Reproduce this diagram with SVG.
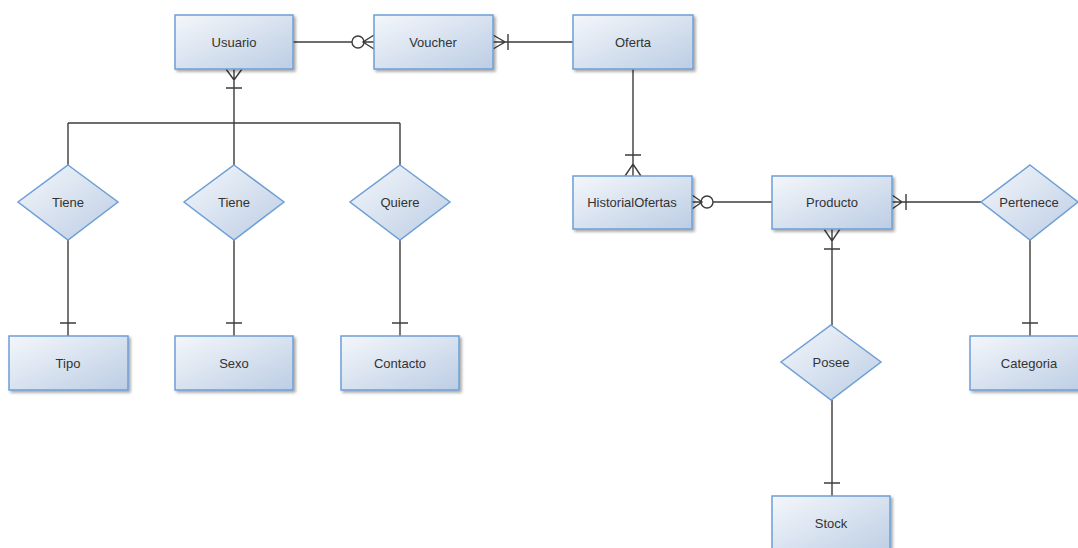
<svg xmlns="http://www.w3.org/2000/svg" width="1078" height="548" viewBox="0 0 1078 548">
  <defs>
    <linearGradient id="fill" x1="0" y1="0" x2="1" y2="1">
      <stop offset="0" stop-color="#f4f7fb"/>
      <stop offset="1" stop-color="#bccde4"/>
    </linearGradient>
    <filter id="shadow" x="-10%" y="-10%" width="130%" height="140%">
      <feGaussianBlur in="SourceAlpha" stdDeviation="1.5"/>
      <feOffset dx="1.5" dy="2" result="b"/>
      <feComponentTransfer><feFuncA type="linear" slope="0.35"/></feComponentTransfer>
      <feMerge><feMergeNode/><feMergeNode in="SourceGraphic"/></feMerge>
    </filter>
  </defs>
  <style>
    .ent { fill: url(#fill); stroke: #6d9fd6; stroke-width: 1.5; filter: url(#shadow); }
    .rel { fill: url(#fill); stroke: #6d9fd6; stroke-width: 1.5; }
    .lbl { font-family: "Liberation Sans", Arial, sans-serif; font-size: 13px; fill: #333; text-anchor: middle; dominant-baseline: central; }
    .ln { fill: none; stroke: #3c3c3c; stroke-width: 1.4; }
  </style>

  <rect width="1078" height="548" fill="#ffffff"/>

  <!-- connectors and cardinality marks -->
  <g id="connectors" class="ln">
    <!-- Usuario - Voucher -->
    <path d="M293 42 H352"/>
    <circle cx="358" cy="42" r="6"/>
    <path d="M364 42 H374 M374 35 L363 42 L374 49"/>
    <!-- Voucher - Oferta -->
    <path d="M493 35 L505 42 L493 49 M493 42 H573 M508 34 V50"/>
    <!-- Oferta - HistorialOfertas -->
    <path d="M633 69 V176 M625 155 H641 M625 176 L633 164 L641 176"/>
    <!-- HistorialOfertas - Producto -->
    <path d="M692 195 L702 202 L692 209 M692 202 H701"/>
    <circle cx="707" cy="202" r="6"/>
    <path d="M713 202 H772"/>
    <!-- Producto - Pertenece -->
    <path d="M892 195 L902 202 L892 209 M892 202 H981 M906 194 V210"/>
    <!-- Pertenece - Categoria -->
    <path d="M1030 240 V336 M1022 323 H1038"/>
    <!-- Producto - Posee -->
    <path d="M832 229 V325 M824 229 L832 241 L840 229 M824 249 H840"/>
    <!-- Posee - Stock -->
    <path d="M832 400 V496 M824 483 H840"/>
    <!-- Usuario - relationships -->
    <path d="M234 69 V123 M226 69 L234 80 L242 69 M226 88 H242"/>
    <path d="M68 123 H400 M68 123 V165 M234 123 V165 M400 123 V165"/>
    <path d="M68 240 V336 M60 323 H76"/>
    <path d="M234 240 V336 M226 323 H242"/>
    <path d="M400 240 V336 M392 323 H408"/>
  </g>

  <!-- entities -->
  <g id="usuario"><rect class="ent" x="175" y="15" width="118" height="54"/><text class="lbl" x="234" y="42">Usuario</text></g>
  <g id="voucher"><rect class="ent" x="374" y="15" width="119" height="54"/><text class="lbl" x="433" y="42">Voucher</text></g>
  <g id="oferta"><rect class="ent" x="573" y="15" width="120" height="54"/><text class="lbl" x="633" y="42">Oferta</text></g>
  <g id="historialofertas"><rect class="ent" x="573" y="176" width="119" height="53"/><text class="lbl" x="632" y="202">HistorialOfertas</text></g>
  <g id="producto"><rect class="ent" x="772" y="176" width="120" height="53"/><text class="lbl" x="832" y="202">Producto</text></g>
  <g id="categoria"><rect class="ent" x="970" y="336" width="118" height="54"/><text class="lbl" x="1029" y="363">Categoria</text></g>
  <g id="stock"><rect class="ent" x="772" y="496" width="118" height="60"/><text class="lbl" x="831" y="523">Stock</text></g>
  <g id="tipo"><rect class="ent" x="9" y="336" width="119" height="54"/><text class="lbl" x="68" y="363">Tipo</text></g>
  <g id="sexo"><rect class="ent" x="175" y="336" width="118" height="54"/><text class="lbl" x="234" y="363">Sexo</text></g>
  <g id="contacto"><rect class="ent" x="341" y="336" width="118" height="54"/><text class="lbl" x="400" y="363">Contacto</text></g>

  <!-- relationships -->
  <g id="tiene-tipo"><polygon class="rel" points="68,165 118,202 68,240 18,202"/><text class="lbl" x="68" y="202">Tiene</text></g>
  <g id="tiene-sexo"><polygon class="rel" points="234,165 284,202 234,240 184,202"/><text class="lbl" x="234" y="202">Tiene</text></g>
  <g id="quiere"><polygon class="rel" points="400,165 450,202 400,240 350,202"/><text class="lbl" x="400" y="202">Quiere</text></g>
  <g id="pertenece"><polygon class="rel" points="1030,165 1078,202 1030,240 981,202"/><text class="lbl" x="1029" y="202">Pertenece</text></g>
  <g id="posee"><polygon class="rel" points="831,325 881,362 831,400 781,362"/><text class="lbl" x="831" y="362">Posee</text></g>
</svg>
